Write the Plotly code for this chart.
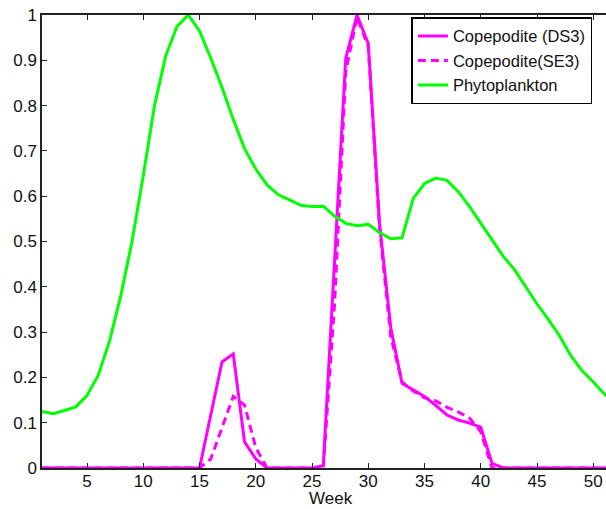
import plotly.graph_objects as go

weeks = list(range(1, 53))

phyto = [0.125, 0.12, 0.127, 0.135, 0.16, 0.205, 0.28, 0.38, 0.50, 0.645,
         0.80, 0.91, 0.975, 1.0, 0.965, 0.905, 0.84, 0.77, 0.705, 0.66,
         0.625, 0.603, 0.592, 0.58, 0.577, 0.578, 0.556, 0.54, 0.535, 0.538,
         0.52, 0.506, 0.508, 0.595, 0.628, 0.64, 0.635, 0.61, 0.577, 0.54,
         0.503, 0.467, 0.438, 0.40, 0.362, 0.328, 0.292, 0.248, 0.215, 0.19,
         0.163, 0.14]

cope_ds3 = [0, 0, 0, 0, 0, 0, 0, 0, 0, 0,
            0, 0, 0, 0, 0, 0.117, 0.234, 0.252, 0.058, 0.02,
            0, 0, 0, 0, 0, 0.005, 0.45, 0.905, 1.0, 0.937,
            0.54, 0.31, 0.187, 0.172, 0.158, 0.138, 0.117, 0.106, 0.099, 0.09,
            0.01, 0, 0, 0, 0, 0, 0, 0, 0, 0,
            0, 0]

cope_se3 = [0, 0, 0, 0, 0, 0, 0, 0, 0, 0,
            0, 0, 0, 0, 0, 0.02, 0.09, 0.158, 0.139, 0.045,
            0, 0, 0, 0, 0, 0, 0.36, 0.875, 0.995, 0.93,
            0.53, 0.29, 0.19, 0.17, 0.155, 0.148, 0.134, 0.124, 0.11, 0.08,
            0, 0, 0, 0, 0, 0, 0, 0, 0, 0,
            0, 0]

x_ticks = [5, 10, 15, 20, 25, 30, 35, 40, 45, 50]
y_ticks = [0, 0.1, 0.2, 0.3, 0.4, 0.5, 0.6, 0.7, 0.8, 0.9, 1]
y_tick_labels = ["0", "0.1", "0.2", "0.3", "0.4", "0.5", "0.6", "0.7", "0.8", "0.9", "1"]
x_title = "Week"

magenta = "#FF00FF"
green = "#00FF00"

fig = go.Figure()
fig.add_trace(go.Scatter(x=weeks, y=cope_ds3, mode="lines", name="Copepodite (DS3)",
                         line=dict(color=magenta, width=3)))
fig.add_trace(go.Scatter(x=weeks, y=cope_se3, mode="lines", name="Copepodite(SE3)",
                         line=dict(color=magenta, width=3, dash="8px,5px")))
fig.add_trace(go.Scatter(x=weeks, y=phyto, mode="lines", name="Phytoplankton",
                         line=dict(color=green, width=3)))

font = dict(family="Liberation Sans, Arial, sans-serif", size=17, color="#111111")
legend_font = dict(family="Liberation Sans, Arial, sans-serif", size=16.5, color="#111111")

fig.add_annotation(text=x_title, xref="paper", yref="paper", x=0.512, y=-0.0895,
                   xanchor="center", yanchor="bottom", showarrow=False, font=font,
                   borderpad=0)

fig.update_layout(
    width=606, height=509,
    margin=dict(l=42, r=0, t=15, b=41),
    paper_bgcolor="white", plot_bgcolor="white",
    font=font,
    showlegend=True,
    legend=dict(x=0.655, y=0.995, xanchor="left", yanchor="top",
                bgcolor="white", bordercolor="black", borderwidth=1.5,
                font=legend_font, tracegroupgap=0, itemwidth=30),
    xaxis=dict(range=[1, 51.13], tickmode="array", tickvals=x_ticks,
               ticks="inside", ticklen=5, tickcolor="#222222", showgrid=False, zeroline=False,
               showline=True, linecolor="#222222", linewidth=1.5, mirror="ticks",
               tickfont=font, automargin=False, ticklabelstandoff=-3),
    yaxis=dict(range=[0, 1], tickmode="array", tickvals=y_ticks, ticktext=y_tick_labels,
               ticks="inside", ticklen=5, tickcolor="#222222", showgrid=False, zeroline=False,
               showline=True, linecolor="#222222", linewidth=1.5, mirror=False,
               tickfont=font, automargin=False),
)

fig.write_html("out.html")
